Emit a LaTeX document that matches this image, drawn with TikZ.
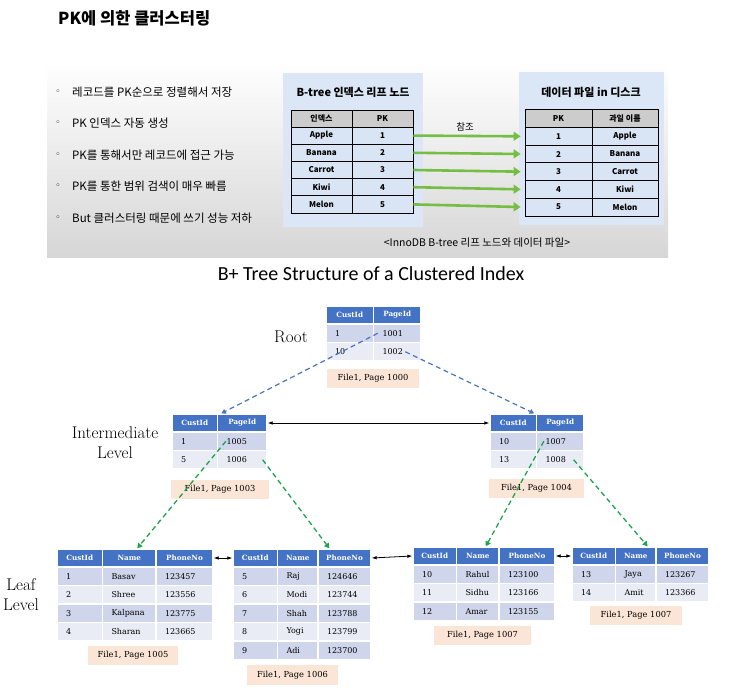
\documentclass[tikz,border=0pt]{standalone}
\usepackage{fontspec}
\usepackage{tikz}
\usetikzlibrary{arrows.meta}
\newfontfamily\krfont{Noto Sans CJK KR}
\newfontfamily\tabfont{DejaVu Serif}
\newfontfamily\capfont{Carlito}
\newfontfamily\symfont{DejaVu Sans}

\definecolor{panelgray}{RGB}{214,214,214}
\definecolor{boxblue}{RGB}{219,231,246}
\definecolor{pkrow}{RGB}{217,228,244}
\definecolor{pkgray}{RGB}{204,204,204}
\definecolor{refgreen}{RGB}{118,190,67}
\definecolor{hdrblue}{RGB}{68,114,196}
\definecolor{rowA}{RGB}{207,213,234}
\definecolor{rowB}{RGB}{233,235,245}
\definecolor{peach}{RGB}{251,229,214}
\definecolor{dashblue}{RGB}{74,116,192}
\definecolor{dashgreen}{RGB}{30,165,75}

\tikzstyle{pkcell} = [rectangle, draw=black, line width=0.8pt, fill=pkrow,
inner sep=0pt, minimum height=17.2pt, text centered,
font=\krfont\bfseries\fontsize{8}{9}\selectfont]
\tikzstyle{pkhead} = [pkcell, fill=pkgray]
\tikzstyle{boxtitle} = [font=\krfont\bfseries\fontsize{11}{13}\selectfont]
\tikzstyle{pointtext} = [anchor=west, inner sep=0pt,
font=\krfont\fontsize{11.5}{13}\selectfont]
\tikzstyle{bulletdot} = [inner sep=0pt, font=\symfont\fontsize{9}{10}\selectfont]
\tikzstyle{bhead} = [rectangle, draw=white, line width=1.3pt, fill=hdrblue,
text=white, inner sep=0pt, minimum height=18pt,
font=\tabfont\bfseries\fontsize{7.2}{8}\selectfont]
\tikzstyle{bcell} = [rectangle, draw=white, line width=1.3pt, inner xsep=9pt,
inner ysep=0pt, minimum height=18.5pt, align=left,
font=\tabfont\fontsize{8}{9}\selectfont]
\tikzstyle{pagebox} = [rectangle, fill=peach, inner sep=0pt, minimum height=19pt,
font=\tabfont\fontsize{8.3}{9}\selectfont]
\tikzstyle{lvlabel} = [align=center, font=\fontsize{17}{20}\selectfont]
\tikzstyle{bluedash} = [dash pattern=on 5pt off 3.5pt, line width=1.2pt,
draw=dashblue, -{Triangle[length=4.5pt,width=5pt]}]
\tikzstyle{greendash} = [dash pattern=on 5pt off 3.5pt, line width=1.3pt,
draw=dashgreen, -{Triangle[length=5pt,width=5.5pt]}]
\tikzstyle{linkarrow} = [line width=0.8pt,
{Latex[length=5pt,width=3.5pt]}-{Latex[length=5pt,width=3.5pt]}]
\tikzstyle{refarrow} = [line width=2.6pt, draw=refgreen,
-{Triangle[length=7pt,width=9pt]}, shorten >=4pt]

\begin{document}
\begin{tikzpicture}[x=1pt, y=-1pt]
\useasboundingbox (0,0) rectangle (730,692);

% upper slide
\shade[top color=white, middle color=white, bottom color=panelgray]
(47,60) rectangle (668,258);
\node(slidetitle)[anchor=west, inner sep=0pt,
font=\krfont\bfseries\fontsize{16.5}{18}\selectfont] at (58,18){PK에 의한 클러스터링};

\foreach \i/\t in {1/레코드를 PK순으로 정렬해서 저장, 2/PK 인덱스 자동 생성,
3/PK를 통해서만 레코드에 접근 가능, 4/PK를 통한 범위 검색이 매우 빠름,
5/But 클러스터링 때문에 쓰기 성능 저하} {
\node(dot\i)[bulletdot] at (58,{92+31.5*(\i-1)}){◦};
\node(pt\i)[pointtext] at (72,{92+31.5*(\i-1)}){\t};
}

\fill[boxblue] (283,73) rectangle (423,227);
\fill[boxblue] (519,72) rectangle (664,225);
\node(idxtitle)[boxtitle] at (353,92){B-tree 인덱스 리프 노드};
\node(datatitle)[boxtitle] at (591,92){데이터 파일 in 디스크};

\node(ix-h1)[pkhead, minimum width=61, minimum height=17] at (321.5,118.5){인덱스};
\node(ix-h2)[pkhead, minimum width=61, minimum height=17] at (382.5,118.5){PK};
\node(df-h1)[pkhead, minimum width=67, minimum height=18.5] at (558.5,118.25){PK};
\node(df-h2)[pkhead, minimum width=66, minimum height=18.5] at (625,118.25){과일 이름};
\foreach \r/\k in {1/Apple,2/Banana,3/Carrot,4/Kiwi,5/Melon} {
\node(ix-\r-a)[pkcell, minimum width=61] at (321.5,{127+17.2*(\r-0.5)}){\k};
\node(ix-\r-b)[pkcell, minimum width=61] at (382.5,{127+17.2*(\r-0.5)}){\r};
\node(df-\r-a)[pkcell, minimum width=67, minimum height=17.7] at (558.5,{127.5+17.7*(\r-0.5)}){\r};
\node(df-\r-b)[pkcell, minimum width=66, minimum height=17.7] at (625,{127.5+17.7*(\r-0.5)}){\k};
}
\foreach \r in {1,...,5}
\draw[refarrow](ix-\r-b.east) -- (df-\r-a.west);

\node(reflbl)[font=\krfont\fontsize{9.5}{11}\selectfont] at (465,127){참조};
\node(caption)[font=\krfont\fontsize{10.5}{12}\selectfont] at (477,243)
{<InnoDB B-tree 리프 노드와 데이터 파일>};

% lower figure
\node(bptitle)[font=\capfont\fontsize{20}{24}\selectfont] at (371,274)
{B+ Tree Structure of a Clustered Index};
\node(rootlbl)[lvlabel] at (291,337){Root};
\node(midlbl)[lvlabel] at (115,443){Intermediate\\Level};
\node(leaflbl)[lvlabel] at (21,595){Leaf\\Level};

% root page
\node(rt-h1)[bhead, minimum width=47.5] at (349.75,315){CustId};
\node(rt-h2)[bhead, minimum width=47.5] at (397.25,315){PageId};
\foreach \i/\cid/\pg/\rc in {1/1/1001/rowA, 2/10/1002/rowB} {
\node(rt-\i-1)[bcell, fill=\rc, text width=29.5] at (349.75,{324+18.5*(\i-0.5)}){\cid};
\node(rt-\i-2)[bcell, fill=\rc, text width=29.5] at (397.25,{324+18.5*(\i-0.5)}){\pg};
}
\node(rt-pg)[pagebox, minimum width=92] at (373,378.5){File1, Page 1000};

% intermediate pages
\node(il-h1)[bhead, minimum width=45.5] at (194.75,423){CustId};
\node(il-h2)[bhead, minimum width=49.5] at (242.25,423){PageId};
\node(ir-h1)[bhead, minimum width=46.5] at (513.25,423){CustId};
\node(ir-h2)[bhead, minimum width=47.5] at (560.25,423){PageId};
\foreach \i/\cid/\pg/\rid/\rpg/\rc in {1/1/1005/10/1007/rowA, 2/5/1006/13/1008/rowB} {
\node(il-\i-1)[bcell, fill=\rc, text width=27.5] at (194.75,{432+18.5*(\i-0.5)}){\cid};
\node(il-\i-2)[bcell, fill=\rc, text width=31.5] at (242.25,{432+18.5*(\i-0.5)}){\pg};
\node(ir-\i-1)[bcell, fill=\rc, text width=28.5] at (513.25,{432+18.5*(\i-0.5)}){\rid};
\node(ir-\i-2)[bcell, fill=\rc, text width=29.5] at (560.25,{432+18.5*(\i-0.5)}){\rpg};
}
\node(il-pg)[pagebox, minimum width=98] at (220,489.5){File1, Page 1003};
\node(ir-pg)[pagebox, minimum width=95] at (536.5,488.5){File1, Page 1004};

% leaf pages
\node(lA-h1)[bhead, minimum width=45.5] at (79.75,558){CustId};
\node(lA-h2)[bhead, minimum width=53.5] at (129.25,558){Name};
\node(lA-h3)[bhead, minimum width=57] at (184.5,558){PhoneNo};
\foreach \i/\nm/\ph/\rc in {1/Basav/123457/rowA, 2/Shree/123556/rowB,
3/Kalpana/123775/rowA, 4/Sharan/123665/rowB} {
\node(lA-\i-1)[bcell, fill=\rc, text width=27.5] at (79.75,{567+18.5*(\i-0.5)}){\i};
\node(lA-\i-2)[bcell, fill=\rc, text width=35.5] at (129.25,{567+18.5*(\i-0.5)}){\nm};
\node(lA-\i-3)[bcell, fill=\rc, text width=39] at (184.5,{567+18.5*(\i-0.5)}){\ph};
}
\node(lA-pg)[pagebox, minimum width=90] at (133,655.5){File1, Page 1005};

\node(lB-h1)[bhead, minimum width=44.5] at (255.25,558){CustId};
\node(lB-h2)[bhead, minimum width=40.5] at (297.75,558){Name};
\node(lB-h3)[bhead, minimum width=53] at (344.5,558){PhoneNo};
\foreach \i/\cid/\nm/\ph/\rc in {1/5/Raj/124646/rowA, 2/6/Modi/123744/rowB,
3/7/Shah/123788/rowA, 4/8/Yogi/123799/rowB, 5/9/Adi/123700/rowA} {
\node(lB-\i-1)[bcell, fill=\rc, text width=26.5] at (255.25,{567+18.5*(\i-0.5)}){\cid};
\node(lB-\i-2)[bcell, fill=\rc, text width=22.5] at (297.75,{567+18.5*(\i-0.5)}){\nm};
\node(lB-\i-3)[bcell, fill=\rc, text width=35] at (344.5,{567+18.5*(\i-0.5)}){\ph};
}
\node(lB-pg)[pagebox, minimum width=91, minimum height=20] at (292.5,675){File1, Page 1006};

\node(lC-h1)[bhead, minimum width=43.5] at (434.75,556){CustId};
\node(lC-h2)[bhead, minimum width=42.5] at (477.75,556){Name};
\node(lC-h3)[bhead, minimum width=56] at (527,556){PhoneNo};
\foreach \i/\cid/\nm/\ph/\rc in {1/10/Rahul/123100/rowA, 2/11/Sidhu/123166/rowB,
3/12/Amar/123155/rowA} {
\node(lC-\i-1)[bcell, fill=\rc, text width=25.5] at (434.75,{565+18.5*(\i-0.5)}){\cid};
\node(lC-\i-2)[bcell, fill=\rc, text width=24.5] at (477.75,{565+18.5*(\i-0.5)}){\nm};
\node(lC-\i-3)[bcell, fill=\rc, text width=38] at (527,{565+18.5*(\i-0.5)}){\ph};
}
\node(lC-pg)[pagebox, minimum width=97] at (482.5,635){File1, Page 1007};

\node(lD-h1)[bhead, minimum width=43.5] at (593.75,556){CustId};
\node(lD-h2)[bhead, minimum width=40.5] at (635.75,556){Name};
\node(lD-h3)[bhead, minimum width=53] at (682.5,556){PhoneNo};
\foreach \i/\cid/\nm/\ph/\rc in {1/13/Jaya/123267/rowA, 2/14/Amit/123366/rowB} {
\node(lD-\i-1)[bcell, fill=\rc, text width=25.5] at (593.75,{565+18.5*(\i-0.5)}){\cid};
\node(lD-\i-2)[bcell, fill=\rc, text width=22.5] at (635.75,{565+18.5*(\i-0.5)}){\nm};
\node(lD-\i-3)[bcell, fill=\rc, text width=35] at (682.5,{565+18.5*(\i-0.5)}){\ph};
}
\node(lD-pg)[pagebox, minimum width=92] at (636,615.5){File1, Page 1007};

% pointers
\draw[bluedash]([xshift=5]rt-1-2.west) -- ([xshift=4.5]il-h2.north west);
\draw[bluedash]([xshift=8]rt-2-2.center) -- ([xshift=-3]ir-h1.north east);
\draw[greendash]([xshift=9]il-1-2.west) -- ([xshift=8]lA-h2.north);
\draw[greendash]([xshift=-5]il-2-2.east) -- ([xshift=12]lB-h3.north west);
\draw[greendash]([xshift=8]ir-1-2.west) -- ([xshift=8]lC-h2.north);
\draw[greendash]([xshift=-11]ir-2-2.east) -- ([xshift=-9]lD-h2.north east);

% sibling links
\draw[linkarrow](il-h2.east) -- (ir-h1.west);
\draw[linkarrow](lA-h3.east) -- (lB-h1.west);
\draw[linkarrow](lB-h3.east) -- (lC-h1.west);
\draw[linkarrow](lC-h3.east) -- (lD-h1.west);

\end{tikzpicture}
\end{document}
